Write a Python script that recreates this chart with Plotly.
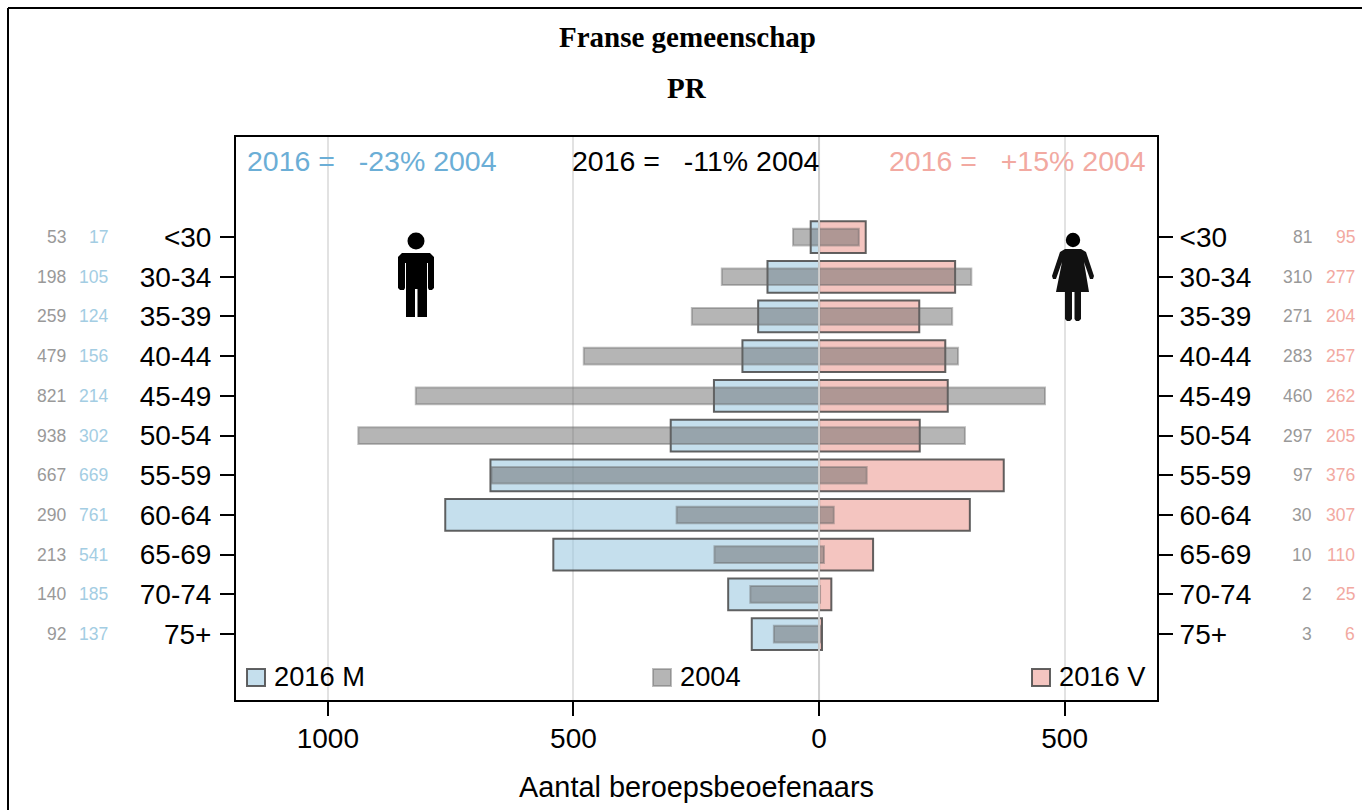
import plotly.graph_objects as go

age_groups = ["<30", "30-34", "35-39", "40-44", "45-49", "50-54", "55-59", "60-64", "65-69", "70-74", "75+"]
men_2004 = [53, 198, 259, 479, 821, 938, 667, 290, 213, 140, 92]
men_2016 = [17, 105, 124, 156, 214, 302, 669, 761, 541, 185, 137]
women_2004 = [81, 310, 271, 283, 460, 297, 97, 30, 10, 2, 3]
women_2016 = [95, 277, 204, 257, 262, 205, 376, 307, 110, 25, 6]
x_tick_values = [-1000, -500, 0, 500]
x_tick_labels = ["1000", "500", "0", "500"]
title_lines = ["Franse gemeenschap", "PR"]
summary_men = "2016 =\u00a0\u00a0\u00a0-23% 2004"
summary_all = "2016 =\u00a0\u00a0\u00a0-11% 2004"
summary_women = "2016 =\u00a0\u00a0\u00a0+15% 2004"
legend_labels = ["2016 M", "2004", "2016 V"]
axis_title = "Aantal beroepsbeoefenaars"

W, H = 1362, 810
FONT = "Liberation Sans, Arial, sans-serif"
BLUE_FILL = "rgba(158,202,225,0.6)"
PINK_FILL = "rgba(235,150,140,0.55)"
GREY_FILL = "rgba(100,100,100,0.48)"
DARK_LINE = "rgba(70,70,70,0.85)"
GREY_LINE = "rgba(100,100,100,0.42)"
TXT_BLUE, TXT_PINK = "#6baed6", "#f2a9a1"
NUM_GREY, NUM_BLUE, NUM_PINK = "#999999", "#a3cde3", "#f2a9a1"


def px(x):
    return x / W


def py(y):
    return 1 - y / H


def path(points):
    return "M" + " L".join(f"{px(a):.5f},{py(b):.5f}" for a, b in points) + " Z"


def circle(cx, cy, r):
    return dict(type="circle", xref="paper", yref="paper", x0=px(cx - r), x1=px(cx + r),
                y0=py(cy + r), y1=py(cy - r), fillcolor="#000", line_width=0)


fig = go.Figure()
fig.add_bar(name="2016 M", y=age_groups, x=[-v for v in men_2016], orientation="h", width=0.8,
            marker=dict(color=BLUE_FILL, line=dict(color=DARK_LINE, width=2)))
fig.add_bar(name="2016 V", y=age_groups, x=women_2016, orientation="h", width=0.8,
            marker=dict(color=PINK_FILL, line=dict(color=DARK_LINE, width=2)))
fig.add_bar(name="2004 M", y=age_groups, x=[-v for v in men_2004], orientation="h", width=0.42,
            marker=dict(color=GREY_FILL, line=dict(color=GREY_LINE, width=2)))
fig.add_bar(name="2004 V", y=age_groups, x=women_2004, orientation="h", width=0.42,
            marker=dict(color=GREY_FILL, line=dict(color=GREY_LINE, width=2)))
fig.add_scatter(x=[0] * len(age_groups), y=age_groups, yaxis="y2", mode="none",
                hoverinfo="skip", showlegend=False)

shapes = [
    dict(type="line", xref="paper", yref="paper", x0=px(8), x1=1, y0=py(8), y1=py(8),
         line=dict(color="#000", width=2)),
    dict(type="line", xref="paper", yref="paper", x0=px(8), x1=px(8), y0=py(8), y1=0,
         line=dict(color="#000", width=2)),
    dict(type="line", xref="x", yref="paper", x0=0, x1=0, y0=py(700), y1=py(137),
         layer="above", line=dict(color="#cfcfcf", width=2)),
]

# Legend keys
for left, fill, edge in [(247, BLUE_FILL, DARK_LINE), (653, GREY_FILL, GREY_LINE), (1032, PINK_FILL, DARK_LINE)]:
    shapes.append(dict(type="rect", xref="paper", yref="paper", x0=px(left), x1=px(left + 18),
                       y0=py(686), y1=py(669), fillcolor=fill, line=dict(color=edge, width=2)))

# Man pictogram
shapes.append(circle(416, 241, 8.5))
shapes.append(dict(type="path", xref="paper", yref="paper", fillcolor="#000", line_width=0, path=path([
    (402, 253), (430, 253), (434, 257), (434, 288), (432, 290), (429, 290), (428, 288),
    (428, 263), (427, 263), (427, 317), (417.5, 317), (417.5, 289), (415, 289), (415, 317),
    (406, 317), (406, 263), (405, 263), (405, 288), (404, 290), (400, 290), (398, 288), (398, 257),
])))

# Woman pictogram
shapes.append(circle(1073, 240, 7.2))
shapes.append(dict(type="path", xref="paper", yref="paper", fillcolor="#111", line_width=0, path=path([
    (1065, 249), (1081, 249), (1086, 252), (1094, 276), (1093, 279), (1090, 279), (1084, 262),
    (1089, 292), (1081, 292), (1081, 319), (1079, 321), (1076, 321), (1074.5, 319), (1074.5, 292),
    (1072, 292), (1072, 319), (1070, 321), (1067, 321), (1065, 319), (1065, 292), (1056, 292),
    (1062, 262), (1056, 279), (1053, 279), (1052, 276), (1060, 252),
])))

annotations = []


def label(x, y, text, size, color="#000", anchor="center", family=FONT, yref="paper"):
    annotations.append(dict(x=px(x), y=py(y) if yref == "paper" else y, xref="paper", yref=yref, text=text,
                            showarrow=False, xanchor=anchor, yanchor="middle",
                            font=dict(size=size, color=color, family=family)))


label(687, 37, f"<b>{title_lines[0]}</b>", 29, family="Liberation Serif, Times New Roman, serif")
label(687, 88, f"<b>{title_lines[1]}</b>", 29, family="Liberation Serif, Times New Roman, serif")
label(245, 161, summary_men, 28.5, TXT_BLUE, "left")
label(696, 161, summary_all, 28.5, "#000")
label(1147.5, 161, summary_women, 28.5, TXT_PINK, "right")
label(272, 676, legend_labels[0], 27.3, anchor="left")
label(678, 676, legend_labels[1], 27.3, anchor="left")
label(1057, 676, legend_labels[2], 27.3, anchor="left")

for i, age in enumerate(age_groups):
    label(68, age, str(men_2004[i]), 17.5, NUM_GREY, "right", yref="y")
    label(109.5, age, str(men_2016[i]), 17.5, NUM_BLUE, "right", yref="y")
    label(1314, age, str(women_2004[i]), 17.5, NUM_GREY, "right", yref="y")
    label(1357, age, str(women_2016[i]), 17.5, NUM_PINK, "right", yref="y")

y_range = [11.66, -2.52]
axis_common = dict(type="category", categoryorder="array", categoryarray=age_groups, range=y_range,
                   showgrid=False, zeroline=False, showline=True, linecolor="#000", linewidth=2,
                   ticks="outside", ticklen=14, tickwidth=2, tickcolor="#000", dtick=1,
                   tickfont=dict(size=28, color="#000", family=FONT), automargin=False)

fig.update_layout(
    width=W, height=H, autosize=False, margin=dict(l=0, r=0, t=0, b=0),
    paper_bgcolor="#fff", plot_bgcolor="#fff", showlegend=False, barmode="overlay",
    xaxis=dict(domain=[px(236), px(1157)], range=[-1187, 688], tickmode="array",
               tickvals=x_tick_values, ticktext=x_tick_labels, ticks="outside", ticklen=14, tickwidth=2,
               tickcolor="#000", showline=True, mirror=True, linecolor="#000", linewidth=2,
               showgrid=True, gridcolor="#e2e2e2", gridwidth=2, zeroline=False, automargin=False,
               tickfont=dict(size=28, color="#000", family=FONT), ticklabelstandoff=-2,
               title=dict(text=axis_title, standoff=24, font=dict(size=28.9, color="#000", family=FONT))),
    yaxis=dict(domain=[py(700), py(137)], side="left", ticklabelstandoff=3, **axis_common),
    yaxis2=dict(overlaying="y", side="right", ticklabelstandoff=1, **axis_common),
    shapes=shapes, annotations=annotations,
)

fig.write_html("out.html", config=dict(displayModeBar=False),
               post_script="document.body.style.margin='0';document.body.style.overflow='hidden';")
